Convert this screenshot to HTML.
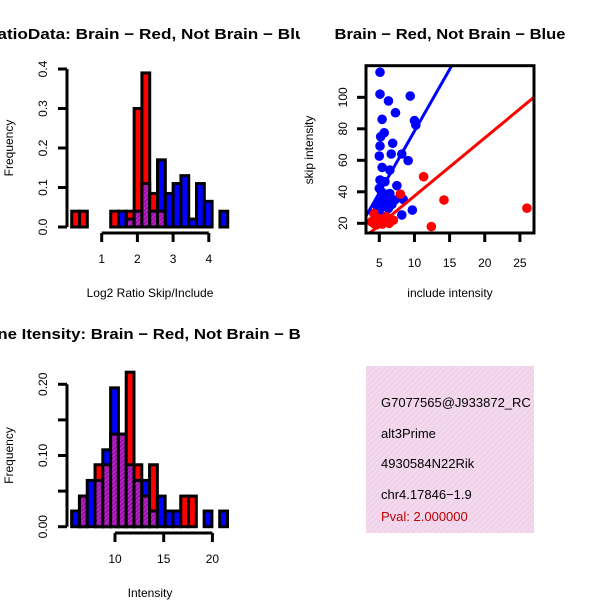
<!DOCTYPE html>
<html><head><meta charset="utf-8"><style>
body{margin:0;background:#fff}
svg{display:block;font-family:"Liberation Sans",sans-serif}
</style></head><body>
<svg id="c" width="600" height="600" viewBox="0 0 600 600">
<defs>
<clipPath id="cl1"><rect x="0" y="0" width="300" height="300"/></clipPath>
<clipPath id="cl3"><rect x="0" y="300" width="300" height="300"/></clipPath>
<pattern id="pink" width="4" height="4" patternUnits="userSpaceOnUse" patternTransform="rotate(45)">
<rect width="4" height="4" fill="#f6d6f0"/><rect width="1" height="4" fill="#e4d4dc"/></pattern>
<pattern id="purp" width="3" height="3" patternUnits="userSpaceOnUse" patternTransform="rotate(45)">
<rect width="3" height="3" fill="#9a10b0"/><rect width="1" height="3" fill="#c030c0"/></pattern>
</defs>
<g id="p1"></g>
<g id="p2"></g>
<g id="p3"></g>
<g id="p4">
<rect x="366" y="366" width="168" height="167" fill="url(#pink)"/>
<svg x="366" y="366" width="168" height="167">
<text x="15" y="41" font-size="13">G7077565@J933872_RC</text>
<text x="15" y="72" font-size="13">alt3Prime</text>
<text x="15" y="102" font-size="13">4930584N22Rik</text>
<text x="15" y="133" font-size="13">chr4.17846−1.9</text>
<text x="15" y="155" font-size="13" fill="#c00000">Pval: 2.000000</text>
</svg>
</g>
</svg>
<script>
// Ratio histogram data
const ratioStart = 0.16, ratioWidth = 0.2185;
const ratioRed  = [0.04,0.04,0,0,0,0.04,0,0.04,0.30,0.39,0.085,0.04,0,0,0,0,0,0,0,0];
const ratioBlue = [0,0,0,0,0,0,0.04,0.02,0.04,0.11,0.04,0.17,0.085,0.11,0.13,0.02,0.11,0.065,0,0.04];
const ratioXTicks = [1,2,3,4];
const ratioYTicks = ["0.0","0.1","0.2","0.3","0.4"];
// Intensity histogram data
const intStart = 5.55, intWidth = 0.8;
const intRed  = [0,0.043,0,0.087,0.087,0.13,0.13,0.217,0.087,0.043,0.087,0,0,0,0.043,0.043,0,0,0,0];
const intBlue = [0.022,0.043,0.065,0.065,0.108,0.195,0.13,0.087,0.065,0.065,0.022,0.043,0.022,0.022,0,0,0,0.022,0,0.022];
const intXTicks = [10,15,20];
const intYTicks = [0,0.05,0.10,0.15,0.20];
// Scatter data
const blueX = [5.1,5.1,6.3,9.4,7.3,5.4,10.0,10.2,5.7,5.2,5.1,6.9,5.0,6.7,8.2,9.1,5.4,6.5,5.1,5.8,5.0,7.5,5.6,6.5,5.1,7.2,8.4,5.6,6.3,9.7,8.2,6.4,5.6,4.9,5.5,6.0,4.7,6.8,5.3];
const blueY = [115.9,102,97.7,100.8,90.2,86,85.2,82.4,77.5,75,69.1,70.8,62.7,64,64,59.8,55.5,53.8,47.5,46.4,42.2,43.9,38.9,38.9,34.8,34.8,35.2,30.5,29.5,28.4,25.3,22.1,24.2,27.4,33,36,31,32,40];
const redX = [11.3,14.2,26.0,12.4,8.0,4.2,4.6,5.4,4.2,6.0,3.9,6.4,7.0,5.0];
const redY = [49.6,34.8,29.6,17.9,38.5,20,19,19.5,26.3,24.2,21,20,22,23];
const blueFit = [0.24,7.83], redFit = [0.4,3.69];
const scXTicks = [5,10,15,20,25];
const scYTicks = [20,40,60,80,100];

const NS="http://www.w3.org/2000/svg";
function mk(parent,tag,attrs,txt){const e=document.createElementNS(NS,tag);for(const k in attrs)e.setAttribute(k,attrs[k]);if(txt!==undefined)e.textContent=txt;parent.appendChild(e);return e;}

function hist(g,clip,title,titleLen,xlab,start,w,red,blue,xT,yT,yLab,xs,ys,titleY,xTickY){
  const gp=mk(g,'g',{'clip-path':'url(#'+clip+')'});
  const t=mk(gp,'text',{x:150,y:titleY,'text-anchor':'middle','font-size':15,'font-weight':'bold',textLength:titleLen,lengthAdjust:'spacingAndGlyphs'},title);
  
  
  for(let i=0;i<red.length;i++){
    const r=red[i]||0,b=blue[i]||0;if(r===0&&b===0)continue;
    const xa=xs(start+i*w),xb=xs(start+(i+1)*w);
    const hi=Math.max(r,b),lo=Math.min(r,b);
    const bar=mk(g,'rect',{x:xa,y:ys(hi),width:xb-xa,height:ys(0)-ys(hi),fill:r>=b?'#ff0000':'#0000ff',stroke:'#000','stroke-width':3});
    
    
    if(lo>0){
      const pb=mk(g,'rect',{x:xa,y:ys(lo),width:xb-xa,height:ys(0)-ys(lo),fill:'url(#purp)',stroke:'#000','stroke-width':3});
      
      
    }
  }
  const ax=mk(g,'g',{});
  
  
  mk(ax,'line',{x1:xs(xT[0]),x2:xs(xT[xT.length-1]),y1:xTickY,y2:xTickY,stroke:'#000','stroke-width':3});
  xT.forEach(v=>{mk(ax,'line',{x1:xs(v),x2:xs(v),y1:xTickY,y2:xTickY+9,stroke:'#000','stroke-width':3});
    mk(ax,'text',{x:xs(v),y:xTickY+30,'text-anchor':'middle','font-size':12},v);});
  const ay=mk(g,'g',{});
  
  
  mk(ay,'line',{x1:67,x2:67,y1:ys(yT[0]),y2:ys(yT[yT.length-1]),stroke:'#000','stroke-width':3});
  yT.forEach((v,i)=>{mk(ay,'line',{x1:58,x2:67,y1:ys(v),y2:ys(v),stroke:'#000','stroke-width':3});
    if(yLab[i]!=='')mk(ay,'text',{x:0,y:0,transform:`translate(47,${ys(v)}) rotate(-90)`,'text-anchor':'middle','font-size':12},yLab[i]);});
  const xl=mk(g,'text',{x:150,y:xTickY+64,'text-anchor':'middle','font-size':12},xlab);
  
  
  const yl=mk(g,'text',{x:0,y:0,transform:`translate(13,${(ys(yT[0])+ys(yT[yT.length-1]))/2}) rotate(-90)`,'text-anchor':'middle','font-size':12},'Frequency');
  
  
}
// panel 1
{const xs=v=>101.7+(v-1)*35.7, ys=v=>227-v*395;
 hist(document.getElementById('p1'),'cl1','RatioData: Brain − Red, Not Brain − Blue',330,'Log2 Ratio Skip/Include',ratioStart,ratioWidth,ratioRed,ratioBlue,ratioXTicks,[0,0.1,0.2,0.3,0.4],ratioYTicks,xs,ys,39,233);}
// panel 3
{const xs=v=>115+(v-10)*9.74, ys=v=>526.7-v*712;
 hist(document.getElementById('p3'),'cl3','Gene Itensity: Brain − Red, Not Brain − Blue',350,'Intensity',intStart,intWidth,intRed,intBlue,intXTicks,intYTicks,["0.00","","0.10","","0.20"],xs,ys,339,533);}
// panel 2 scatter
{const g=document.getElementById('p2');
 const xs=v=>379.3+(v-5)*7.03, ys=v=>223.3-(v-20)*1.575;
 const t=mk(g,'text',{x:450,y:39,'text-anchor':'middle','font-size':15,'font-weight':'bold',textLength:231,lengthAdjust:'spacingAndGlyphs'},'Brain − Red, Not Brain − Blue');
 
 
 const pg=mk(g,'svg',{x:366,y:65.7,width:168,height:167.3,viewBox:'366 65.7 168 167.3',overflow:'hidden'});
 blueX.forEach((x,i)=>{const c=mk(pg,'circle',{cx:xs(x),cy:ys(blueY[i]),r:4.8,fill:'#0000ff'});
   
   });
 redX.forEach((x,i)=>{const c=mk(pg,'circle',{cx:xs(x),cy:ys(redY[i]),r:4.8,fill:'#ff0000'});
   
   });
 [[blueFit,'#0000ff','fit-line-not-brain'],[redFit,'#ff0000','fit-line-brain']].forEach(([f,col,nm])=>{
   const l=mk(pg,'line',{x1:xs(0),y1:ys(f[0]),x2:xs(40),y2:ys(f[0]+f[1]*40),stroke:col,'stroke-width':3});
   
   });
 mk(g,'rect',{x:366,y:65.7,width:168,height:167.3,fill:'none',stroke:'#000','stroke-width':3});
 scXTicks.forEach(v=>{mk(g,'line',{x1:xs(v),x2:xs(v),y1:233,y2:242,stroke:'#000','stroke-width':3});
   mk(g,'text',{x:xs(v),y:267,'text-anchor':'middle','font-size':12},v);});
 scYTicks.forEach(v=>{mk(g,'line',{x1:357,x2:366,y1:ys(v),y2:ys(v),stroke:'#000','stroke-width':3});
   mk(g,'text',{x:0,y:0,transform:`translate(347,${ys(v)}) rotate(-90)`,'text-anchor':'middle','font-size':12},v);});
 const xl=mk(g,'text',{x:450,y:297,'text-anchor':'middle','font-size':12},'include intensity');
 
 
 const yl=mk(g,'text',{x:0,y:0,transform:'translate(313,150) rotate(-90)','text-anchor':'middle','font-size':12},'skip intensity');
 
 
}
</script>
</body></html>
